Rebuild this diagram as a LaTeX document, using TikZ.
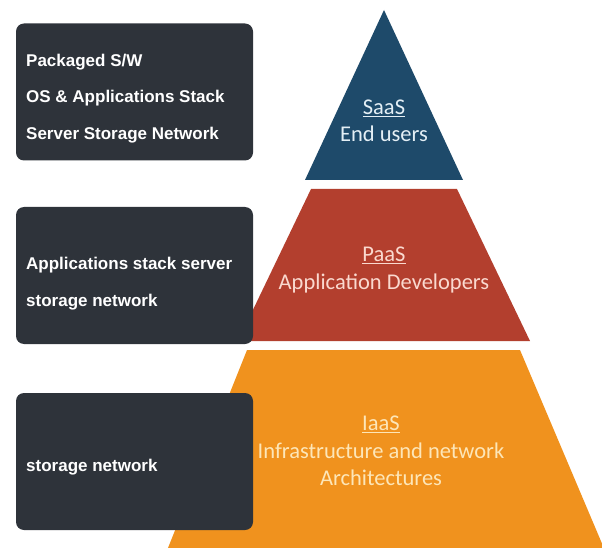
\documentclass[tikz,border=0pt]{standalone}
\usepackage{fontspec}
\setmainfont{Liberation Sans}
\newfontfamily\pyrfont{Carlito}
\definecolor{navytier}{HTML}{1E4A6A}
\definecolor{redtier}{HTML}{B33F2E}
\definecolor{orangetier}{HTML}{F0921E}
\definecolor{boxdark}{HTML}{2E333A}
\definecolor{navytext}{HTML}{E4EFF5}
\definecolor{redtext}{HTML}{FAD9CF}
\definecolor{orangetext}{HTML}{FDE6B8}
\tikzset{
  infobox/.style={fill=boxdark, rounded corners=8pt, minimum width=237pt, minimum height=137pt, inner sep=0pt},
  boxtext/.style={anchor=west, text=white, inner sep=0pt, font=\fontsize{17}{20}\selectfont\bfseries},
  tiertext/.style={align=center, inner sep=0pt, font=\pyrfont\fontsize{22.5}{27.5}\selectfont},
}
\begin{document}
\begin{tikzpicture}[x=1pt,y=-1pt]
\useasboundingbox (0,0) rectangle (602,548);
\clip (0,0) rectangle (602,548);
% pyramid tiers
\fill[orangetier] (247,350) -- (520,350) -- (606,553) -- (166,553) -- cycle;
\fill[redtier] (311,189) -- (457,189) -- (530,341) -- (238,341) -- cycle;
\fill[navytier] (384,10) -- (463,180) -- (305,180) -- cycle;
% tier labels
\node[tiertext, text=navytext] (saas) at (384,121) {\underline{SaaS}\\End users};
\node[tiertext, text=redtext] (paas) at (384,270) {\underline{PaaS}\\Application Developers};
\node[tiertext, text=orangetext] (iaas) at (381,451) {\underline{IaaS}\\Infrastructure and network\\Architectures};
% boxes
\node[infobox] (b1) at (134.5,92) {};
\node[infobox] (b2) at (134.5,275.5) {};
\node[infobox] (b3) at (134.5,461.5) {};
\node[boxtext] (t11) at (26,62) {Packaged S/W};
\node[boxtext] (t12) at (26,98) {OS \& Applications Stack};
\node[boxtext] (t13) at (26,135) {Server Storage Network};
\node[boxtext] (t21) at (26,265) {Applications stack server};
\node[boxtext] (t22) at (26,302) {storage network};
\node[boxtext] (t31) at (26,467) {storage network};
\end{tikzpicture}
\end{document}
